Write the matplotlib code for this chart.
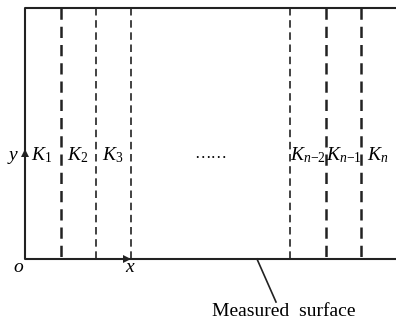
import matplotlib.pyplot as plt

plt.rcParams['font.family'] = 'Liberation Serif'
plt.rcParams['mathtext.fontset'] = 'custom'
plt.rcParams['mathtext.rm'] = 'Liberation Serif'
plt.rcParams['mathtext.it'] = 'Liberation Serif:italic'

# frame of the measured region (pixel-like units)
left, right = 25, 396
top, bottom = 8, 259

# dividing lines between the strips
cuts = [61, 96, 131, 290, 326, 361]
cut_widths = [1.8, 1.2, 1.2, 1.2, 1.8, 1.8]

# strip labels and their centres
labels = [r'$K_{\mathrm{1}}$', r'$K_{\mathrm{2}}$', r'$K_{\mathrm{3}}$',
          r'$K_{n\mathrm{-2}}$', r'$K_{n\mathrm{-1}}$', r'$K_n$']
label_x = [42, 78, 113, 308, 344, 378]
label_y = 155

fig = plt.figure(figsize=(3.96, 3.2), dpi=100)
ax = fig.add_axes([0, 0, 1, 1])
ax.set_xlim(0, 396)
ax.set_ylim(320, 0)
ax.axis('off')

# outer frame
ax.plot([right, left, left, right], [top, top, bottom, bottom],
        color='#222222', lw=1.5, solid_capstyle='butt')

for xc, w in zip(cuts, cut_widths):
    ax.plot([xc, xc], [top, bottom], color='#222222', lw=w,
            dashes=(4.5, 2.8))

for lx, lab in zip(label_x, labels):
    ax.text(lx, label_y, lab, fontsize=14, ha='center', va='center')

ax.text(211, label_y - 1, '……', fontsize=12, ha='center', va='center')

# axis arrowheads
ax.plot([left], [label_y - 2], marker='^', ms=6, color='#222222', mew=0)
ax.plot([127], [bottom], marker='>', ms=6, color='#222222', mew=0)

ax.text(13, label_y, 'y', fontsize=14, style='italic', ha='center', va='center')
ax.text(18, 268, 'o', fontsize=14, style='italic', ha='center', va='center')
ax.text(130, 268, 'x', fontsize=14, style='italic', ha='center', va='center')

# leader to the surface note
ax.plot([257, 276], [259, 302], color='#222222', lw=1.2)
ax.text(284, 312, 'Measured  surface', fontsize=14, ha='center', va='center')

fig.savefig('out.png', dpi=100)
